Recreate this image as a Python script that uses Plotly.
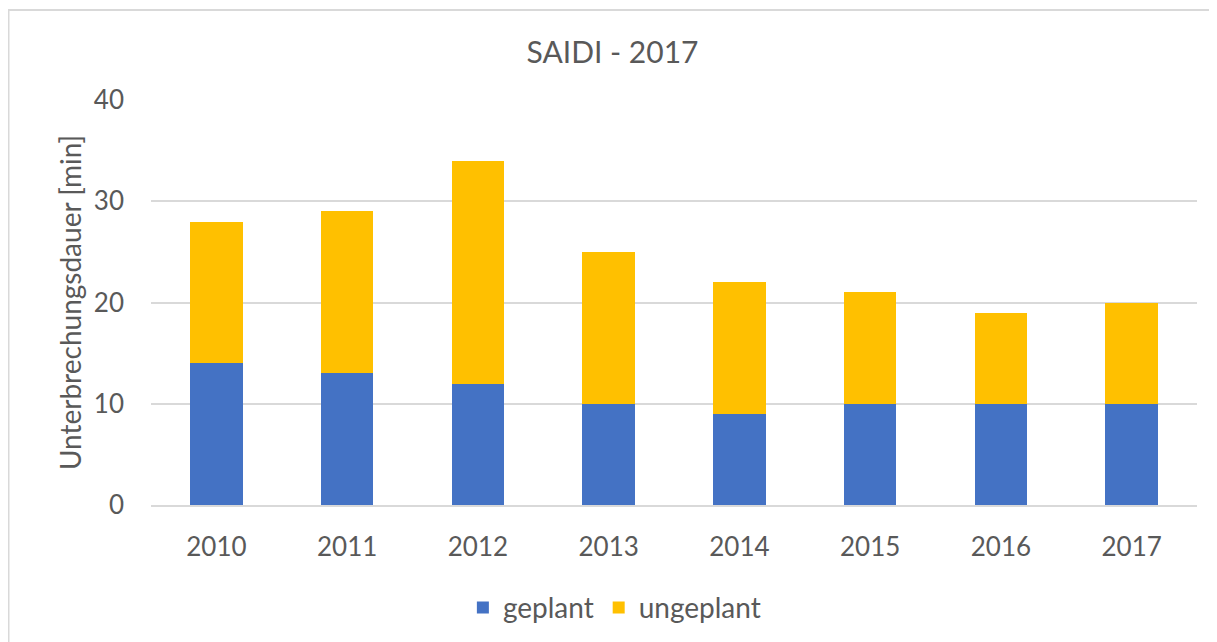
import plotly.graph_objects as go

years = ["2010", "2011", "2012", "2013", "2014", "2015", "2016", "2017"]
geplant = [14, 13, 12, 10, 9, 10, 10, 10]
ungeplant = [14, 16, 22, 15, 13, 11, 9, 10]

TXT = "#595959"
GRID = "#D9D9D9"
FONT = "Lato, 'Open Sans', sans-serif"

W, H = 1209, 634

fig = go.Figure()
fig.add_trace(go.Bar(x=years, y=geplant, name="geplant", marker=dict(color="#4472C4", line=dict(width=0))))
fig.add_trace(go.Bar(x=years, y=ungeplant, name="ungeplant", marker=dict(color="#FFC000", line=dict(width=0))))

fig.update_layout(
    barmode="stack",
    bargap=0.6,
    width=W, height=H,
    paper_bgcolor="white", plot_bgcolor="white",
    margin=dict(l=143, r=20, t=92, b=137, autoexpand=False),
    font=dict(family=FONT, color=TXT, size=26),
    title=dict(text="SAIDI - 2017", x=0.5, xanchor="center", y=1 - 44 / H, yanchor="middle",
               font=dict(size=30, color=TXT, family=FONT)),
    legend=dict(orientation="h", x=0.443, xanchor="center", y=-0.254, yanchor="middle",
                font=dict(size=28, color=TXT), itemwidth=30, traceorder="normal"),
    showlegend=True,
)
fig.update_xaxes(showgrid=False, showline=True, linecolor=GRID, linewidth=2,
                 ticks="", ticklabelstandoff=18, tickfont=dict(size=26, color=TXT))
fig.update_yaxes(range=[0, 40], dtick=10, showgrid=True, gridcolor=GRID, gridwidth=2,
                 zeroline=False, showline=False, ticks="", ticklabelstandoff=26,
                 tickfont=dict(size=26, color=TXT),
                 title=dict(text="Unterbrechungsdauer [min]", font=dict(size=28, color=TXT), standoff=4))

fig.add_shape(type="rect", xref="paper", yref="paper",
              x0=(8.5 - 151) / 1046, x1=1.2, y0=-0.5, y1=(505 - 10) / 405,
              line=dict(color=GRID, width=2), fillcolor="rgba(0,0,0,0)", layer="below")

fig.write_html("out.html")
